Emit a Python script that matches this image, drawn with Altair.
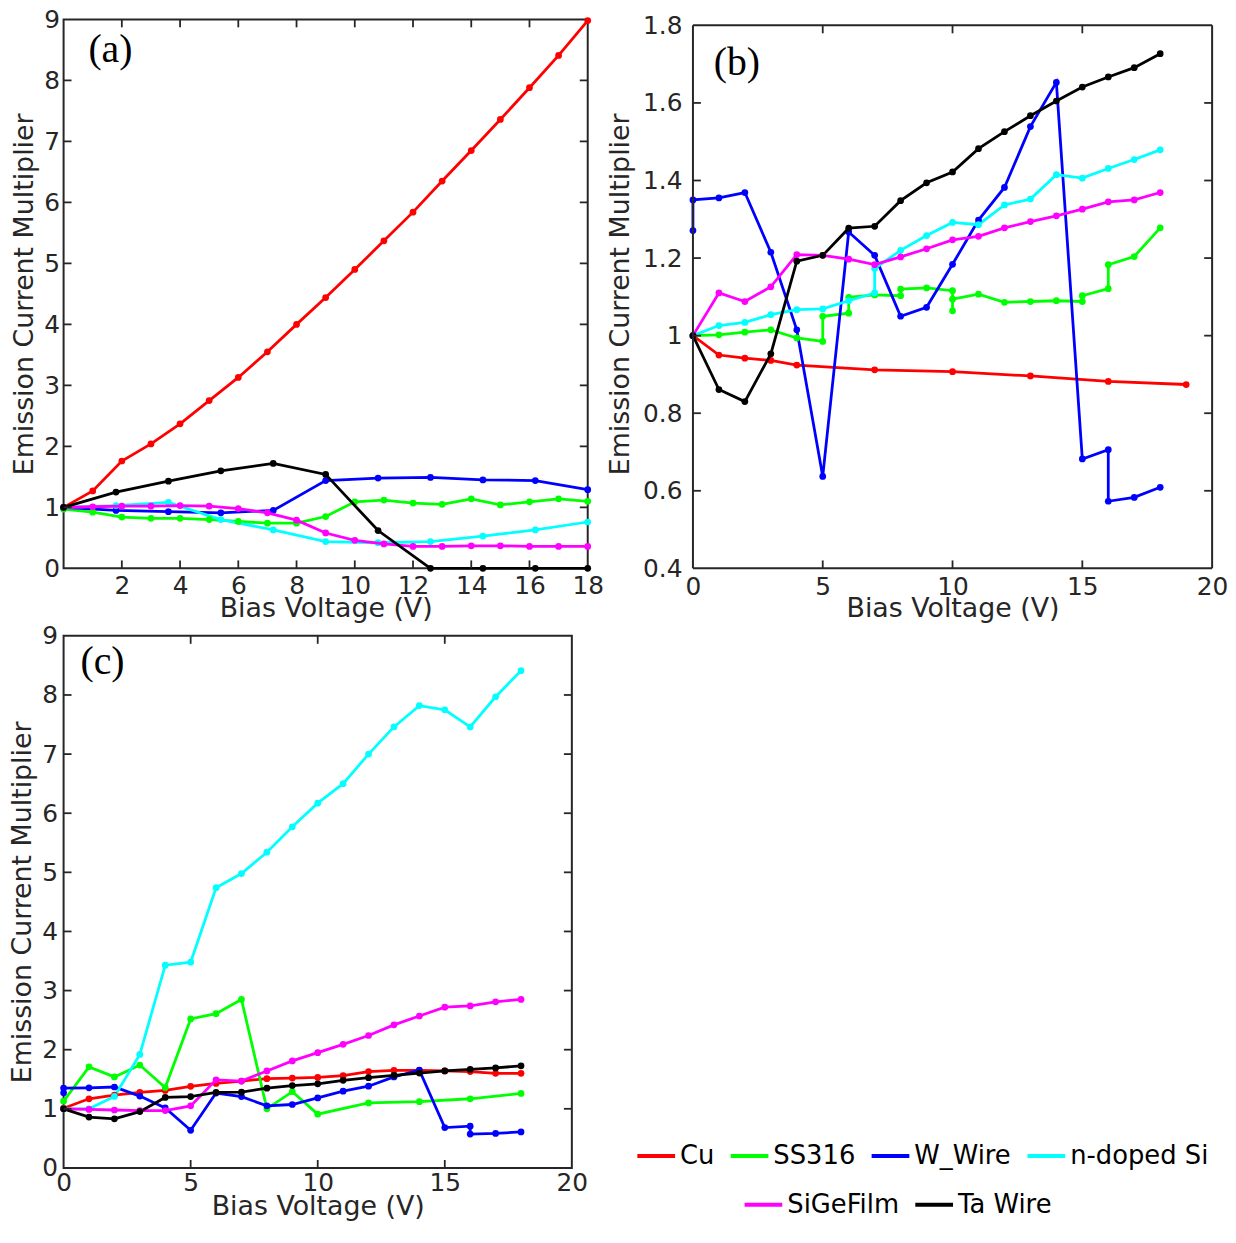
import altair as alt
import pandas as pd

# ---------------- data ----------------
SERIES = ["Cu", "SS316", "W_Wire", "n-doped Si", "SiGeFilm", "Ta Wire"]
COLORS = ["#ff0000", "#00ff00", "#0000ff", "#00ffff", "#ff00ff", "#000000"]
GROUP1 = SERIES[:4]
GROUP2 = SERIES[4:]

X19 = list(range(19))
A_STEP_X = [0, 1.8, 3.6, 5.4, 7.2, 9.0, 10.8, 12.6, 14.4, 16.2, 18.0]

# panel (a)
a_cu = [1.0, 1.27, 1.76, 2.04, 2.37, 2.75, 3.13, 3.55, 4.0, 4.44, 4.9, 5.37, 5.84, 6.35, 6.85, 7.36, 7.88, 8.41, 8.98]
a_ss = [0.97, 0.92, 0.84, 0.82, 0.82, 0.80, 0.77, 0.74, 0.74, 0.85, 1.09, 1.12, 1.07, 1.05, 1.14, 1.04, 1.09, 1.14, 1.10]
a_w = [1.0, 0.95, 0.93, 0.91, 0.95, 1.44, 1.48, 1.49, 1.45, 1.44, 1.29]
a_nsi = [1.0, 1.03, 1.08, 0.80, 0.63, 0.44, 0.42, 0.44, 0.53, 0.63, 0.76]
a_sige = [1.0, 1.01, 1.02, 1.02, 1.03, 1.02, 0.98, 0.91, 0.79, 0.58, 0.46, 0.40, 0.36, 0.36, 0.37, 0.37, 0.36, 0.36, 0.36]
a_ta = [1.0, 1.25, 1.43, 1.60, 1.72, 1.54, 0.62, 0.0, 0.0, 0.0, 0.0]

# panel (b)
b_cu_x = [0, 1, 2, 3, 4, 7, 10, 13, 16, 19]
b_cu = [1.0, 0.950, 0.942, 0.936, 0.924, 0.912, 0.907, 0.896, 0.882, 0.874]
b_ss_x = [0, 1, 2, 3, 4, 5, 5, 6, 6, 7, 8, 8, 9, 10, 10, 10, 11, 12, 13, 14, 15, 15, 16, 16, 17, 18]
b_ss = [1.0, 1.002, 1.009, 1.015, 0.994, 0.985, 1.050, 1.058, 1.099, 1.105, 1.103, 1.120, 1.123,
        1.116, 1.064, 1.094, 1.107, 1.086, 1.088, 1.090, 1.088, 1.103, 1.121, 1.183, 1.204, 1.278]
b_w_x = [0, 0, 1, 2, 3, 4, 5, 6, 7, 8, 9, 10, 11, 12, 13, 14, 15, 16, 16, 17, 18]
b_w = [1.271, 1.350, 1.355, 1.369, 1.215, 1.015, 0.637, 1.267, 1.207, 1.050, 1.073, 1.184,
       1.298, 1.382, 1.539, 1.653, 0.682, 0.706, 0.573, 0.583, 0.609]
b_nsi_x = [0, 1, 2, 3, 4, 5, 6, 7, 7, 8, 9, 10, 11, 12, 13, 14, 15, 16, 17, 18]
b_nsi = [1.0, 1.026, 1.034, 1.054, 1.067, 1.069, 1.090, 1.110, 1.173, 1.220, 1.258, 1.292,
         1.286, 1.337, 1.352, 1.415, 1.406, 1.431, 1.454, 1.479]
b_sige = [1.0, 1.11, 1.088, 1.126, 1.209, 1.207, 1.197, 1.183, 1.203, 1.224, 1.247, 1.256,
          1.278, 1.294, 1.309, 1.326, 1.345, 1.350, 1.369]
b_ta = [1.0, 0.861, 0.830, 0.953, 1.192, 1.207, 1.277, 1.282, 1.348, 1.394, 1.422, 1.482,
        1.526, 1.567, 1.605, 1.641, 1.667, 1.691, 1.727]

# panel (c)
c_cu = [1.01, 1.17, 1.23, 1.28, 1.31, 1.38, 1.43, 1.47, 1.51, 1.52, 1.53, 1.56, 1.63, 1.65, 1.65, 1.64, 1.63, 1.60, 1.60]
c_ss_x = [0, 1, 2, 3, 4, 5, 6, 7, 8, 9, 10, 12, 14, 16, 18]
c_ss = [1.13, 1.71, 1.54, 1.74, 1.36, 2.52, 2.61, 2.85, 1.0, 1.29, 0.91, 1.10, 1.12, 1.17, 1.26]
c_nsi = [1.0, 1.0, 1.21, 1.92, 3.43, 3.48, 4.74, 4.98, 5.34, 5.77, 6.17, 6.50, 7.0, 7.46, 7.82, 7.75, 7.46, 7.97, 8.41]
c_sige = [1.0, 0.99, 0.98, 0.97, 0.97, 1.05, 1.49, 1.47, 1.64, 1.81, 1.95, 2.09, 2.24, 2.42, 2.57, 2.72, 2.74, 2.81, 2.85]

# axis ticks
A_XTICKS = [2, 4, 6, 8, 10, 12, 14, 16, 18]
A_YTICKS = list(range(10))
B_XTICKS = [0, 5, 10, 15, 20]
B_YTICKS = [0.4, 0.6, 0.8, 1.0, 1.2, 1.4, 1.6, 1.8]
C_XTICKS = [0, 5, 10, 15, 20]
C_YTICKS = list(range(10))


def frame(series_list):
    rows = []
    for name, xs, ys in series_list:
        for i, (x, y) in enumerate(zip(xs, ys)):
            rows.append({"series": name, "x": x, "y": y, "idx": i})
    return pd.DataFrame(rows)


df_a = frame([("Cu", X19, a_cu), ("SS316", X19, a_ss), ("W_Wire", A_STEP_X, a_w),
              ("n-doped Si", A_STEP_X, a_nsi), ("SiGeFilm", X19, a_sige), ("Ta Wire", A_STEP_X, a_ta)])
df_b = frame([("Cu", b_cu_x, b_cu), ("SS316", b_ss_x, b_ss), ("W_Wire", b_w_x, b_w),
              ("n-doped Si", b_nsi_x, b_nsi), ("SiGeFilm", X19, b_sige), ("Ta Wire", X19, b_ta)])
df_c = frame([("Cu", X19, c_cu), ("SS316", c_ss_x, c_ss), ("W_Wire", b_w_x, b_w),
              ("n-doped Si", X19, c_nsi), ("SiGeFilm", X19, c_sige), ("Ta Wire", X19, b_ta)])

FONT = "DejaVu Sans"
AX = "#262626"
LEG_FONT = "DejaVu Sans"

S1 = alt.Scale(domain=GROUP1, range=COLORS[:4])
S2 = alt.Scale(domain=GROUP2, range=COLORS[4:])

LEG_COMMON = dict(orient="none", direction="horizontal", title=None,
                  symbolType="stroke", symbolStrokeWidth=4, symbolSize=1444, labelFontSize=26,
                  labelFont=LEG_FONT, labelColor="black", labelLimit=0, labelOffset=3,
                  columnPadding=8, padding=0)
L1 = alt.Legend(legendX=576, legendY=1124, **LEG_COMMON)
L2 = alt.Legend(legendX=684, legendY=1173, **LEG_COMMON)


def panel(df, W, H, xdom, ydom, yticks, xlab, label, label_x, label_y, xmaj, ymaj,
          ylabpad=5, ytitlepad=5, xlabpad=5, xtitlepad=0, frame_top=None):
    xs = alt.Scale(domain=xdom, nice=False, zero=False)
    ys = alt.Scale(domain=ydom, nice=False, zero=False)
    common = dict(ticks=False, domain=False, grid=False, labelFontSize=25, titleFontSize=27,
                  labelFont=FONT, titleFont=FONT, labelColor=AX, titleColor=AX,
                  titleFontWeight="normal", labelFlush=False, labelOverlap=False)
    xaxis = alt.Axis(values=xlab, title="Bias Voltage (V)", labelPadding=xlabpad,
                     titlePadding=xtitlepad, **common)
    yaxis = alt.Axis(values=yticks, title="Emission Current Multiplier", labelPadding=ylabpad,
                     titlePadding=ytitlepad, format="~g", **common)
    g1 = df[df.series.isin(GROUP1)]
    g2 = df[df.series.isin(GROUP2)]
    enc = dict(x=alt.X("x:Q", scale=xs, axis=xaxis), y=alt.Y("y:Q", scale=ys, axis=yaxis))
    l1 = alt.Chart(g1).mark_line(strokeWidth=2.8).encode(
        order="idx:Q", stroke=alt.Stroke("series:N", scale=S1, legend=L1), **enc)
    p1 = alt.Chart(g1).mark_circle(size=46, opacity=1).encode(
        fill=alt.Fill("series:N", scale=S1, legend=None), **enc)
    l2 = alt.Chart(g2).mark_line(strokeWidth=2.8).encode(
        order="idx:Q", color=alt.Color("series:N", scale=S2, legend=L2), **enc)
    p2 = alt.Chart(g2).mark_circle(size=46, opacity=1).encode(
        color=alt.Color("series:N", scale=S2, legend=L2), **enc)

    tx = alt.X("x:Q", scale=xs, axis=xaxis)
    ty = alt.Y("y:Q", scale=ys, axis=yaxis)
    tick_style = dict(color=AX, strokeWidth=1.8)
    xt = pd.DataFrame({"x": xmaj})
    yt = pd.DataFrame({"y": ymaj})
    layers = [l1, p1, l2, p2]
    layers.append(alt.Chart(xt).mark_rule(**tick_style).encode(
        x=tx, y=alt.value(H), y2=alt.value(H - 8)))
    layers.append(alt.Chart(yt).mark_rule(**tick_style).encode(
        y=ty, x=alt.value(0), x2=alt.value(8)))
    layers.append(alt.Chart(yt).mark_rule(**tick_style).encode(
        y=ty, x=alt.value(W - 8), x2=alt.value(W)))
    props = dict(width=W, height=H)
    if frame_top is None:
        layers.append(alt.Chart(xt).mark_rule(**tick_style).encode(
            x=tx, y=alt.value(0), y2=alt.value(8)))
    else:
        # frame drawn by hand so that its top edge sits at the top tick value
        top_val, tick_len = frame_top
        fstyle = dict(color=AX, strokeWidth=2)
        topdf = pd.DataFrame({"y": [top_val]})
        layers.append(alt.Chart(topdf).mark_rule(**fstyle).encode(
            y=ty, x=alt.value(0), x2=alt.value(W)))
        layers.append(alt.Chart(topdf).mark_rule(**fstyle).encode(
            y=ty, y2=alt.value(H), x=alt.value(0)))
        layers.append(alt.Chart(topdf).mark_rule(**fstyle).encode(
            y=ty, y2=alt.value(H), x=alt.value(W)))
        layers.append(alt.Chart(topdf).mark_rule(**fstyle).encode(
            y=alt.value(H), x=alt.value(0), x2=alt.value(W)))
        ttdf = pd.DataFrame({"x": xmaj, "y": [top_val] * len(xmaj),
                             "y2": [top_val - tick_len] * len(xmaj)})
        layers.append(alt.Chart(ttdf).mark_rule(**tick_style).encode(
            x=tx, y=ty, y2="y2:Q"))
        props["view"] = alt.ViewBackground(strokeOpacity=0)

    layers.append(alt.Chart(pd.DataFrame({"label": [label]})).mark_text(
        font="Liberation Serif", fontSize=40, align="left", baseline="middle", color="black"
    ).encode(x=alt.value(label_x), y=alt.value(label_y), text="label:N"))

    return alt.layer(*layers).properties(**props)


B_H = 553
B_TOP = 1.8 + 6 * (1.8 - 0.4) / 547          # 6 px of headroom above the 1.8 tick
B_TICKLEN = 8 * (1.8 - 0.4) / 547

pa = panel(df_a, 528, 553, [0, 18], [0, 9], A_YTICKS, A_XTICKS, "(a)", 25, 31,
           [2, 4, 6, 8, 10, 12, 14, 16], list(range(1, 9)), ylabpad=4, ytitlepad=5,
           xlabpad=5, xtitlepad=-2)
pb = panel(df_b, 523, B_H, [0, 20], [0.4, B_TOP], B_YTICKS, B_XTICKS, "(b)", 21, 44,
           [5, 10, 15], [0.6, 0.8, 1.0, 1.2, 1.4, 1.6], ylabpad=11, ytitlepad=8,
           xlabpad=6, xtitlepad=-3, frame_top=(1.8, B_TICKLEN))
pc = panel(df_c, 512, 536, [0, 20], [0, 9], C_YTICKS, C_XTICKS, "(c)", 17, 26,
           [5, 10, 15], list(range(1, 9)), ylabpad=6, ytitlepad=5, xlabpad=3, xtitlepad=-2)

chart = alt.vconcat(
    alt.hconcat(pa, pb, spacing=2),
    pc,
    spacing=0,
).properties(
    padding={"top": -6, "left": 0, "right": 0, "bottom": 0}, background="white"
).configure_view(stroke=AX, strokeWidth=2)

chart.save("out.html", embed_options={"renderer": "svg", "actions": False})
